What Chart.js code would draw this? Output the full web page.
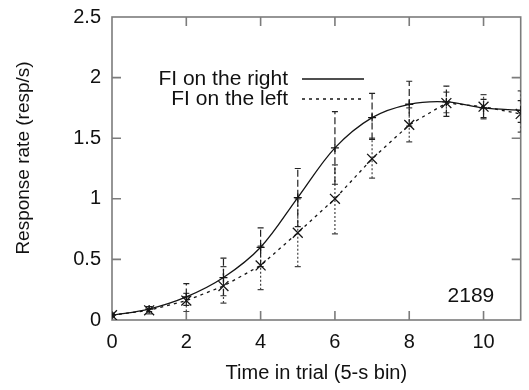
<!DOCTYPE html>
<html>
<head>
<meta charset="utf-8">
<script src="https://cdn.jsdelivr.net/npm/chart.js@4.4.1/dist/chart.umd.min.js"></script>
<style>
  body { margin: 0; background: #fff; }
  #wrap { width: 529px; height: 390px; }
</style>
</head>
<body>
<div id="wrap"><canvas id="rateChart"></canvas></div>
<script>
// values (subject 2189)
const bins = [0, 1, 2, 3, 4, 5, 6, 7, 8, 9, 10, 11];
const rightMean = [0.04, 0.09, 0.19, 0.35, 0.60, 1.01, 1.42, 1.67, 1.78, 1.80, 1.75, 1.73];
const rightLow  = [0.03, 0.07, 0.12, 0.20, 0.44, 0.77, 1.12, 1.49, 1.60, 1.68, 1.67, 1.63];
const rightHigh = [0.05, 0.11, 0.30, 0.51, 0.76, 1.25, 1.72, 1.87, 1.97, 1.93, 1.82, 1.81];
const leftMean  = [0.04, 0.08, 0.16, 0.28, 0.45, 0.72, 1.00, 1.33, 1.61, 1.79, 1.76, 1.70];
const leftLow   = [0.02, 0.05, 0.07, 0.14, 0.25, 0.44, 0.71, 1.17, 1.47, 1.71, 1.66, 1.55];
const leftHigh  = [0.06, 0.11, 0.22, 0.44, 0.61, 1.00, 1.28, 1.50, 1.75, 1.88, 1.86, 1.89];
const xTicks = [0, 2, 4, 6, 8, 10];
const yTicks = [0, 0.5, 1, 1.5, 2, 2.5];
const subjectLabel = '2189';

const FONT = '"Liberation Sans", Arial, sans-serif';

// turn low/high arrays into vertical segments separated by gaps
function errorSegments(low, high) {
    const pts = [];
    bins.forEach((b, i) => {
        pts.push({ x: b, y: low[i] });
        pts.push({ x: b, y: high[i] });
        pts.push({ x: b, y: null });
    });
    return pts;
}
function capRadius(ctx) {
    return ctx.raw && ctx.raw.y !== null ? 3 : 0;
}

const framePlugin = {
    id: 'frame',
    beforeDatasetsDraw(chart) {
        const { ctx, chartArea: a, scales: { x, y } } = chart;
        ctx.save();
        ctx.strokeStyle = '#7c7c7c';
        ctx.lineWidth = 1.6;
        ctx.strokeRect(a.left, a.top, a.right - a.left, a.bottom - a.top);
        ctx.beginPath();
        xTicks.forEach(v => {
            if (v <= x.min) return;
            const px = x.getPixelForValue(v);
            ctx.moveTo(px, a.bottom); ctx.lineTo(px, a.bottom - 9);
            ctx.moveTo(px, a.top); ctx.lineTo(px, a.top + 9);
        });
        yTicks.forEach(v => {
            if (v <= y.min || v >= y.max) return;
            const py = y.getPixelForValue(v);
            ctx.moveTo(a.left, py); ctx.lineTo(a.left + 9, py);
            ctx.moveTo(a.right, py); ctx.lineTo(a.right - 9, py);
        });
        ctx.stroke();
        ctx.restore();
    },
    afterDraw(chart) {
        const { ctx, scales: { x, y } } = chart;
        ctx.save();
        ctx.fillStyle = '#111';

        // y axis title
        ctx.save();
        ctx.translate(24, 158);
        ctx.rotate(-Math.PI / 2);
        ctx.font = '19px ' + FONT;
        ctx.textAlign = 'center';
        ctx.textBaseline = 'middle';
        ctx.fillText('Response rate (resp/s)', 0, 0);
        ctx.restore();

        // gnuplot-like key
        ctx.font = '21px ' + FONT;
        ctx.textAlign = 'right';
        ctx.textBaseline = 'middle';
        const keys = [
            { label: 'FI on the right', ds: chart.data.datasets[0], y: 79 },
            { label: 'FI on the left', ds: chart.data.datasets[1], y: 99 }
        ];
        keys.forEach(k => {
            ctx.fillText(k.label, 288, k.y);
            ctx.beginPath();
            ctx.setLineDash(k.ds.borderDash || []);
            ctx.strokeStyle = k.ds.borderColor;
            ctx.lineWidth = k.ds.borderWidth;
            ctx.moveTo(302, k.y);
            ctx.lineTo(364, k.y);
            ctx.stroke();
        });
        ctx.setLineDash([]);

        // subject number
        ctx.textAlign = 'center';
        ctx.fillText(subjectLabel, x.getPixelForValue(9.66), y.getPixelForValue(0.2));
        ctx.restore();
    }
};

new Chart(document.getElementById('rateChart'), {
    type: 'line',
    data: {
        datasets: [
            {
                label: 'FI on the right',
                data: bins.map((b, i) => ({ x: b, y: rightMean[i] })),
                borderColor: '#151515',
                borderWidth: 1.3,
                tension: 0.35,
                pointStyle: 'cross',
                pointRadius: 4,
                pointBorderColor: '#151515',
                pointBorderWidth: 1.3
            },
            {
                label: 'FI on the left',
                data: bins.map((b, i) => ({ x: b, y: leftMean[i] })),
                borderColor: '#151515',
                borderWidth: 1.3,
                borderDash: [3, 4],
                pointStyle: 'crossRot',
                pointRadius: 7,
                pointBorderColor: '#151515',
                pointBorderWidth: 1.3
            },
            {
                label: 'right error',
                data: errorSegments(rightLow, rightHigh),
                borderColor: '#222',
                borderWidth: 1.2,
                borderDash: [7, 3],
                spanGaps: false,
                pointStyle: 'line',
                pointRadius: capRadius,
                pointBorderColor: '#222',
                pointBorderWidth: 1.2
            },
            {
                label: 'left error',
                data: errorSegments(leftLow, leftHigh),
                borderColor: '#444',
                borderWidth: 1.2,
                borderDash: [2, 2],
                spanGaps: false,
                pointStyle: 'line',
                pointRadius: capRadius,
                pointBorderColor: '#444',
                pointBorderWidth: 1.2
            }
        ]
    },
    options: {
        responsive: true,
        maintainAspectRatio: false,
        animation: false,
        layout: { padding: { top: 17, right: 1, left: 0, bottom: 0 } },
        plugins: {
            legend: { display: false },
            tooltip: { enabled: false }
        },
        scales: {
            x: {
                type: 'linear',
                min: 0,
                max: 11,
                afterFit: s => { s.height = 70; },
                afterBuildTicks: s => { s.ticks = xTicks.map(v => ({ value: v })); },
                grid: { display: false, drawTicks: false },
                border: { display: false },
                ticks: {
                    color: '#111', padding: 10, maxRotation: 0,
                    font: { family: FONT, size: 20 },
                    callback: v => String(v)
                },
                title: {
                    display: true,
                    text: 'Time in trial (5-s bin)',
                    color: '#111',
                    padding: { bottom: 5 },
                    font: { family: FONT, size: 20 }
                }
            },
            y: {
                min: 0,
                max: 2.5,
                afterFit: s => { s.width = 112; s.paddingTop = 0; },
                afterBuildTicks: s => { s.ticks = yTicks.map(v => ({ value: v })); },
                grid: { display: false, drawTicks: false },
                border: { display: false },
                ticks: {
                    color: '#111', padding: 11,
                    font: { family: FONT, size: 20 },
                    callback: v => String(v)
                }
            }
        }
    },
    plugins: [framePlugin]
});
</script>
</body>
</html>
